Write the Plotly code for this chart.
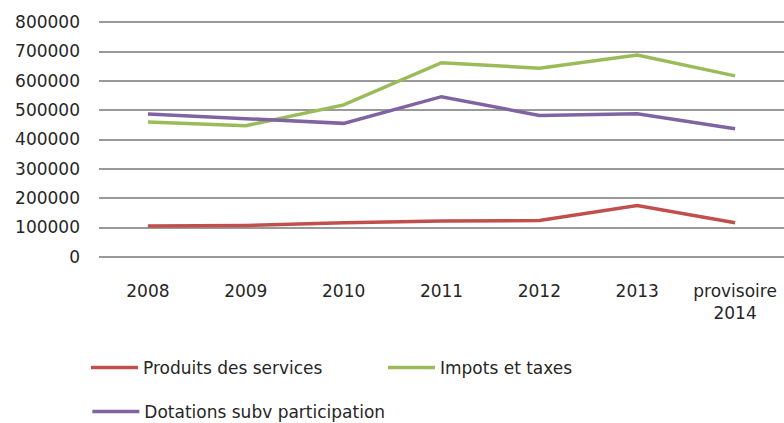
import plotly.graph_objects as go

categories = ["2008", "2009", "2010", "2011", "2012", "2013", "provisoire<br>2014"]
produits_services = [105000, 107000, 116000, 122000, 124000, 175000, 116000]
impots_taxes = [460000, 447000, 518000, 662000, 643000, 688000, 617000]
dotations = [487000, 470000, 455000, 546000, 482000, 488000, 437000]
y_ticks = [0, 100000, 200000, 300000, 400000, 500000, 600000, 700000, 800000]

FONT = "DejaVu Sans"
TXT = "#262626"

fig = go.Figure()
fig.add_trace(go.Scatter(x=categories, y=produits_services, mode="lines",
                         name="Produits des services",
                         line=dict(color="#C0504D", width=3.5), legend="legend"))
fig.add_trace(go.Scatter(x=categories, y=impots_taxes, mode="lines",
                         name="Impots et taxes",
                         line=dict(color="#9BBB59", width=3.5), legend="legend"))
fig.add_trace(go.Scatter(x=categories, y=dotations, mode="lines",
                         name="Dotations subv participation",
                         line=dict(color="#8064A2", width=3.5), legend="legend2"))

fig.update_layout(
    width=784, height=423,
    margin=dict(l=99, r=0, t=21, b=165, autoexpand=False),
    paper_bgcolor="white", plot_bgcolor="white",
    font=dict(family=FONT, size=17, color=TXT),
    xaxis=dict(type="category", range=[-0.5, 6.5], showgrid=False,
               showline=False, zeroline=False, ticks="",
               ticklabelstandoff=21, tickfont=dict(size=17, color=TXT),
               automargin=False),
    yaxis=dict(range=[-4000, 804000], tickvals=y_ticks,
               ticktext=[str(v) for v in y_ticks],
               showgrid=True, gridcolor="#9a9a9a", gridwidth=2,
               zeroline=False, showline=False, ticks="",
               ticklabelstandoff=18, tickfont=dict(size=17, color=TXT),
               automargin=False),
    legend=dict(orientation="h", x=-0.019, y=-0.464, xanchor="left", yanchor="middle",
                entrywidth=235, entrywidthmode="pixels", itemwidth=47,
                font=dict(size=17, color=TXT), bgcolor="rgba(0,0,0,0)"),
    legend2=dict(orientation="h", x=-0.017, y=-0.65, xanchor="left", yanchor="middle",
                 itemwidth=47, font=dict(size=17, color=TXT), bgcolor="rgba(0,0,0,0)"),
)

fig.write_html("out.html")
